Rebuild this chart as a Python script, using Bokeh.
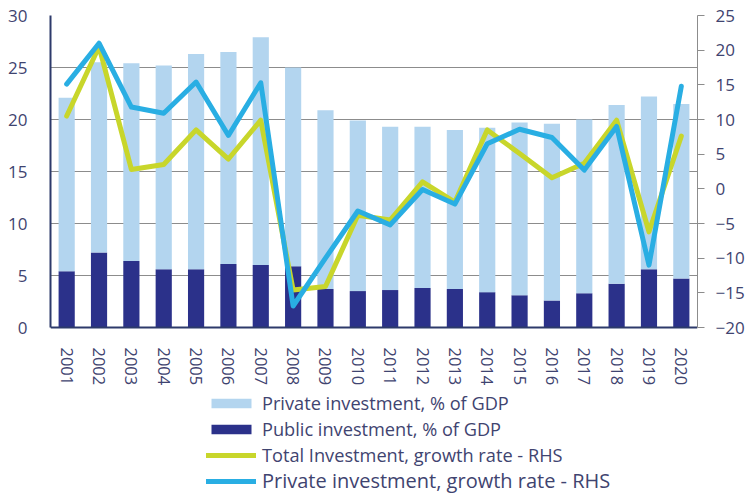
from bokeh.plotting import figure
from bokeh.models import (Range1d, LinearAxis, FixedTicker, Legend, LegendItem, ColumnDataSource)
from bokeh.embed import file_html
from bokeh.resources import INLINE

years = [str(y) for y in range(2001, 2021)]
public_pct = [5.4, 7.2, 6.4, 5.6, 5.6, 6.1, 6.0, 5.9, 3.7, 3.5,
              3.6, 3.8, 3.7, 3.4, 3.1, 2.6, 3.3, 4.2, 5.6, 4.7]
private_pct = [16.7, 18.3, 19.0, 19.6, 20.7, 20.4, 21.9, 19.1, 17.2, 16.4,
               15.7, 15.5, 15.3, 15.8, 16.6, 17.0, 16.7, 17.2, 16.6, 16.8]
total_growth = [10.5, 20.5, 2.8, 3.5, 8.5, 4.3, 9.9, -14.6, -14.1, -3.8,
                -4.5, 1.0, -1.9, 8.5, 5.1, 1.6, 3.7, 9.9, -6.2, 7.6]
private_growth = [15.1, 21.0, 11.8, 10.9, 15.4, 7.7, 15.3, -16.9, -10.0, -3.2,
                  -5.2, -0.1, -2.2, 6.5, 8.6, 7.4, 2.7, 9.0, -11.0, 14.8]
left_ticks = [0, 5, 10, 15, 20, 25, 30]
right_ticks = [-20, -15, -10, -5, 0, 5, 10, 15, 20, 25]

LIGHT = "#b3d5ef"
DARK = "#2b318a"
GREEN = "#c8d62b"
CYAN = "#29aee3"
TEXT = "#3f4470"
FONT = "Open Sans"

# layout: plotting area 0..30 occupies 312px (y=15..327); frame extends to the
# bottom of the canvas so that the x labels and the legend live inside it
W, H = 756, 494
TOP = 15
AREA = 312
L0, L1 = 0, 30
R0, R1 = -20, 25
px_per_unit = AREA / (L1 - L0)
extra = (H - TOP - AREA) / px_per_unit
left_start = L0 - extra
right_start = R0 - extra * (R1 - R0) / (L1 - L0)

src = ColumnDataSource(dict(year=years, public=public_pct, private=private_pct,
                            tg=total_growth, pg=private_growth))

p = figure(x_range=years, y_range=Range1d(left_start, L1), width=W, height=H,
           output_backend="svg", toolbar_location=None,
           min_border_left=50, min_border_right=59, min_border_top=TOP, min_border_bottom=0)
p.outline_line_color = None
p.extra_y_ranges = {"rhs": Range1d(right_start, R1)}

r_pub, r_priv = p.vbar_stack(["public", "private"], x="year", width=0.5, source=src,
                             color=[DARK, LIGHT], line_color=None)
r_tg = p.line("year", "tg", source=src, y_range_name="rhs", line_color=GREEN,
              line_width=5, line_join="round", line_cap="round")
r_pg = p.line("year", "pg", source=src, y_range_name="rhs", line_color=CYAN,
              line_width=5, line_join="round", line_cap="round")

# grid
p.xgrid.grid_line_color = None
p.ygrid.ticker = FixedTicker(ticks=left_ticks)
p.ygrid.grid_line_color = "#8c8c8c"
p.ygrid.grid_line_width = 1

# left axis
la = p.yaxis[0]
la.ticker = FixedTicker(ticks=left_ticks)
la.bounds = (L0, L1)
la.axis_line_color = "#2d3a6b"
la.axis_line_width = 2
la.major_tick_line_color = None
la.minor_tick_line_color = None
la.major_label_standoff = 17
la.major_label_text_font = FONT
la.major_label_text_font_size = "17px"
la.major_label_text_color = TEXT

# bottom axis, fixed at 0
xa = p.xaxis[0]
xa.fixed_location = 0
xa.axis_line_color = "#2d3a6b"
xa.axis_line_width = 2
xa.major_tick_line_color = None
xa.minor_tick_line_color = None
xa.major_label_orientation = "vertical"
xa.major_label_standoff = 14
xa.major_label_text_font = FONT
xa.major_label_text_font_size = "16.5px"
xa.major_label_text_color = TEXT

# right axis
ra = LinearAxis(y_range_name="rhs", ticker=FixedTicker(ticks=right_ticks))
ra.bounds = (R0, R1)
ra.axis_line_color = "#8c8c8c"
ra.major_tick_line_color = "#8c8c8c"
ra.major_tick_out = 7
ra.major_tick_in = 0
ra.minor_tick_line_color = None
ra.major_label_standoff = 11
ra.major_label_text_font = FONT
ra.major_label_text_font_size = "17px"
ra.major_label_text_color = TEXT
p.add_layout(ra, "right")

def style_legend(lg, size):
    lg.padding = 0
    lg.margin = 0
    lg.spacing = 0
    lg.glyph_width = 50
    lg.glyph_height = 12
    lg.label_height = 26
    lg.label_standoff = 6
    lg.label_text_font = FONT
    lg.label_text_font_size = size
    lg.label_text_color = TEXT
    lg.border_line_color = None
    lg.background_fill_alpha = 0

legend1 = Legend(items=[
    LegendItem(label="Private investment, % of GDP", renderers=[r_priv]),
    LegendItem(label="Public investment, % of GDP", renderers=[r_pub]),
    LegendItem(label="Total Investment, growth rate - RHS", renderers=[r_tg]),
], location=(156, 26))
style_legend(legend1, "18.2px")
legend2 = Legend(items=[
    LegendItem(label="Private investment, growth rate - RHS", renderers=[r_pg]),
], location=(156, 0))
style_legend(legend2, "20px")
p.add_layout(legend1, "center")
p.add_layout(legend2, "center")

open("out.html", "w").write(file_html(p, INLINE))
